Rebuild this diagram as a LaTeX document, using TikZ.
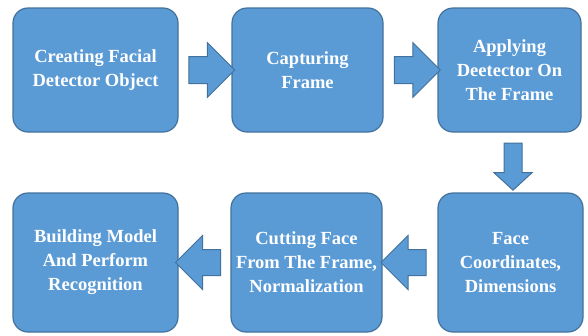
\documentclass[tikz,border=0pt]{standalone}
\usepackage{fontspec}
\setmainfont{Liberation Serif}
\usepackage{tikz}
\usetikzlibrary{shapes.arrows}
\usetikzlibrary{calc}
\definecolor{boxfill}{HTML}{5B9BD5}
\definecolor{boxline}{HTML}{41719C}
\tikzset{
    procbox/.style={draw=boxline, fill=boxfill, line width=1.2pt, rounded corners=15pt,
        text=white, align=center, font=\fontsize{18.5}{24}\selectfont\bfseries, inner sep=2pt},
    flowarrow/.style={draw=boxline, fill=boxfill, line width=1pt, single arrow,
        minimum height=46pt, inner xsep=0pt, inner ysep=13pt, single arrow head extend=14pt,
        single arrow tip angle=90},
    downarrow/.style={flowarrow, minimum height=47pt, inner xsep=8.5pt, inner ysep=0pt,
        single arrow head extend=10pt, single arrow tip angle=95, shape border rotate=270}
}

\begin{document}
\begin{tikzpicture}[x=1pt, y=-1pt]
    \useasboundingbox (0,0) rectangle (588,335);
    % top row
    \node[procbox, minimum width=165pt, minimum height=124pt] (create) at (95.5,70) {Creating Facial\\Detector Object};
    \node[procbox, minimum width=151pt, minimum height=124pt] (capture) at (307.5,70) {Capturing\\Frame};
    \node[procbox, minimum width=143pt, minimum height=124pt] (apply) at (509.5,70) {Applying\\Deetector On\\The Frame};
    % bottom row
    \node[procbox, minimum width=145pt, minimum height=139pt] (coords) at (510.5,262.5) {Face\\Coordinates,\\Dimensions};
    \node[procbox, minimum width=151pt, minimum height=139pt] (cut) at (306.5,262.5) {Cutting Face\\From The Frame,\\Normalization};
    \node[procbox, minimum width=165pt, minimum height=139pt] (build) at (95.5,262.5) {Building Model\\And Perform\\Recognition};

    % block arrows between the steps
    \node[flowarrow] (a1) at ($(create.east)!0.5!(capture.west)$) {};
    \node[flowarrow] (a2) at ($(capture.east)!0.5!(apply.west)$) {};
    \node[downarrow] (a3) at ($(apply.south)!0.5!(coords.north)+(3,0)$) {};
    \node[flowarrow, shape border rotate=180, minimum height=45pt, inner ysep=12.5pt] (a4) at ($(coords.west)!0.5!(cut.east)$) {};
    \node[flowarrow, shape border rotate=180, minimum height=45pt, inner ysep=12.5pt] (a5) at ($(cut.west)!0.5!(build.east)$) {};
\end{tikzpicture}
\end{document}
